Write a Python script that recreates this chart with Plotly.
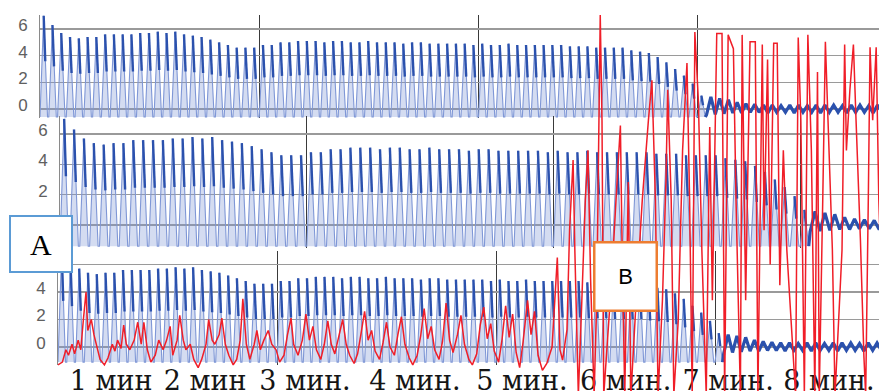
import plotly.graph_objects as go

# ---------------- data ----------------
# peak value of every breathing cycle (blue signal), before the collapse
blue_peaks = [7.0, 6.3, 5.7, 5.4, 5.3, 5.4, 5.4, 5.6, 5.6, 5.6, 5.6, 5.7, 5.7, 5.8, 5.7, 5.8, 5.6, 5.5, 5.4, 5.2,
              5.0, 4.8, 4.6, 4.6, 4.6, 4.8, 4.8, 5.0, 5.0, 5.1,
              5.1, 5.1, 5.0, 5.1, 5.1, 5.0, 5.0, 5.1, 5.0, 5.0, 5.0, 4.9, 5.0, 5.0, 4.9, 4.9,
              4.9, 4.9, 4.9, 4.8, 4.9, 4.8, 4.8, 4.9, 4.8, 4.8, 4.8, 4.8, 4.8, 4.8,
              4.7, 4.7, 4.7, 4.6, 4.6, 4.6, 4.6, 4.4, 4.3, 4.2, 3.9, 3.5, 3.0, 2.5, 1.9, 1.0]
# small oscillation after the collapse
post_peaks = [0.9, 0.8, 0.7, 0.5, 0.4, 0.35, 0.3, 0.3, 0.25, 0.3, 0.3, 0.25, 0.3, 0.3, 0.3, 0.25,
              0.3, 0.3, 0.25, 0.3, 0.3, 0.3]
post_troughs = [-0.45, -0.4, -0.35, -0.3, -0.3, -0.25, -0.25, -0.3, -0.25, -0.25, -0.3, -0.25,
                -0.25, -0.3, -0.25, -0.25, -0.3, -0.25, -0.25, -0.3, -0.25, -0.25]
# trough level of the blue signal in each of the three panels
trough_levels = [-0.6, -1.4, -1.1]

# red signal (time in cycles, value in units of the lower panel)
red_t = [0.0, 0.5, 0.9, 1.2, 1.6, 1.9, 2.3, 2.6, 2.9, 3.2, 3.4, 3.8, 4.1, 4.4, 4.8, 5.3, 5.7, 6.2, 6.5, 6.8,
         7.2, 7.5, 7.8, 8.2, 8.7, 9.1, 9.5, 9.8, 10.2, 10.6, 11.1, 11.5, 12.0, 12.4, 12.8, 13.1, 13.6, 13.9,
         14.3, 14.6, 15.1, 15.5, 16.0, 16.4, 16.9, 17.2, 17.6, 17.9, 18.4, 18.7, 19.1, 19.5, 20.0, 20.4,
         20.8, 21.1, 21.5, 21.9, 22.4, 22.7, 23.1, 23.5, 24.0, 24.4, 24.9, 25.3, 25.8, 26.2, 26.6, 26.9,
         27.4, 27.9, 28.3, 28.7, 29.1, 29.5, 30.0, 30.4, 30.8, 31.2, 31.6, 32.1, 32.5, 32.9, 33.3, 33.8,
         34.2, 34.6, 35.0, 35.4, 35.8, 36.2, 36.7, 37.1, 37.5, 37.9, 38.4, 38.8, 39.2, 39.6, 40.1, 40.5,
         41.0, 41.4, 41.8, 42.2, 42.6, 43.0, 43.5, 43.9, 44.3, 44.7, 45.1, 45.6, 46.0, 46.4, 46.9, 47.3,
         47.8, 48.2, 48.6, 49.0, 49.4, 49.8, 50.3, 50.7, 51.1, 51.5, 51.9, 52.3, 52.7, 53.1, 53.6, 54.0,
         54.4, 54.8, 55.3, 55.8, 56.4, 57.0, 57.3,
         57.6, 58.1, 58.4, 58.8, 59.0, 59.4, 59.8, 60.2, 60.5, 60.8, 61.2, 61.5, 61.9, 62.1, 62.3, 62.8,
         63.2, 63.7, 64.2, 64.4, 64.7, 65.1, 65.4, 66.0, 66.7, 67.4, 67.8, 68.2, 68.5, 69.0, 69.4, 69.6,
         70.0, 70.3, 70.8, 71.3, 71.8, 72.1, 72.4, 72.7, 73.1, 73.5, 74.0, 74.4, 74.7, 75.2, 75.8, 76.1,
         76.5, 77.1, 77.4, 77.9, 78.1, 78.5, 79.0, 79.6, 79.9, 80.4, 80.6, 81.0, 81.3, 81.7, 82.1, 82.4,
         82.8, 83.2, 83.8, 84.2, 84.5, 84.8, 85.2, 85.6, 86.0, 86.4, 86.7, 86.9, 87.3, 87.6, 87.9, 88.4,
         88.7, 89.0, 89.5, 89.8, 90.0, 90.4, 90.8, 91.1, 91.6, 92.0, 92.2, 92.5, 92.7, 93.0, 93.4, 93.7,
         94.4]
red_v = [-1.3, -1.1, -0.2, -0.6, 0.2, -0.5, 0.5, -0.2, 2.0, 4.0, 1.2, 2.0, 0.9, 0.2, -0.9, -1.3, -0.8, 0.2, -0.3, 0.5,
         -0.1, 1.6, 0.2, -0.2, 0.5, 1.8, 0.2, 1.8, -0.2, -1.1, -0.6, 0.5, -0.2, 0.5, 1.5, -0.6, 0.5, 2.3,
         0.5, -0.2, 0.2, -0.9, -1.5, -0.9, 0.2, 2.0, 0.5, 0.2, 0.9, 2.1, 0.2, -0.6, -1.3, -0.9,
         0.5, 3.5, 0.2, -0.9, 0.2, 1.2, -0.2, 0.5, 1.2, 0.2, -0.2, -1.1, -0.6, 0.9, 2.1, 0.2,
         -0.6, 0.5, 2.4, 0.5, 1.5, -0.2, -0.9, 0.2, 1.9, 0.2, -0.5, 0.9, 2.0, 0.2, -0.6, -1.2,
         -0.5, 1.0, 2.6, 0.5, 1.2, -0.3, -0.9, 0.3, 1.8, 0.0, -0.6, 0.9, 2.2, 0.2, -0.8, -1.3,
         -0.6, 0.8, 2.8, 0.6, 1.5, -0.2, -0.9, 0.4, 3.2, 0.5, -0.4, 0.9, 2.3, 0.2, -0.9, -1.3,
         -0.5, 1.6, 2.9, 0.6, 1.7, -0.3, -1.1, 0.6, 3.0, 0.7, 2.4, -0.4, -1.5, 0.4, 3.4, 0.9,
         2.6, -0.6, -1.7, -1.2, 0.0, 6.5, -0.2,
         -0.95, 1.24, 8.5, 13.6, 7.05, -3.5, 3.4, 10.7, 14.3, 4.9, -3.5, 3.4, 24.15, 16.5, -3.5, 1.24,
         4.9, 10.7, 16.1, 7.05, -3.5, 12.0, -3.5, 3.4, 10.7, 16.5, 19.4, 10.7, -3.5, 3.4, 12.1, 18.7,
         10.7, -3.5, 1.9, 14.3, 20.65, 10.7, -3.5, 22.9, 17.96, 7.05, -3.5, 16.0, 3.4, 22.8, 22.8, -3.5,
         22.7, 21.7, 10.7, -3.5, 22.7, 3.4, 22.2, 22.2, -3.5, 22.0, 8.5, 20.9, 6.0, 22.1, 22.1, 4.5,
         14.3, 7.05, 0.5, -3.5, 22.5, 16.5, -3.5, 22.7, 14.3, -3.5, 20.0, -3.5, 10.7, 22.2, 16.5, 7.05,
         -3.5, 0.5, 7.05, 22.0, 14.3, 18.7, 22.0, 16.5, 7.8, -0.7, -3.5, 10.7, 21.8, 16.5, 21.8, 10.7,
         -3.5]

# minute labels under the lower panel (position in cycles)
minute_pos = [6.05, 16.8, 28.2, 40.75, 52.97, 64.8, 76.5, 88.0]
minute_labels = ["1 мин", "2 мин", "3 мин.", "4 мин.", "5 мин.", "6 мин.", "7 мин.", "8 мин."]
y_ticks = [0, 2, 4, 6]
cycle_marks = [25, 50, 75]

LIGHT = "#7f97d6"
DARK = "#2b51ad"
FILL = "rgba(120,145,212,0.32)"
RED = "#f01e28"


def wave(tr):
    lx, ly, dx, dy = [], [], [], []
    for i, p in enumerate(blue_peaks):
        lx += [i, i + 0.42, i + 0.86]
        ly += [tr, p, tr]
        dx += [i + 0.42, i + 0.6, None]
        dy += [p, tr + 0.55 * (p - tr), None]
    n = len(blue_peaks)
    fx, fy = [n - 0.14], [tr]
    for j in range(len(post_peaks)):
        fx += [n + j, n + j + 0.5]
        fy += [post_troughs[j], post_peaks[j]]
    return lx, ly, dx, dy, fx, fy


fig = go.Figure()
for k in range(3):
    tr = trough_levels[k]
    lx, ly, dx, dy, fx, fy = wave(tr)
    xa = "x" if k == 0 else f"x{k+1}"
    ya = "y" if k == 0 else f"y{k+1}"
    fig.add_trace(go.Scatter(x=[lx[0], lx[-1]], y=[tr, tr], mode="lines", line=dict(width=0),
                             xaxis=xa, yaxis=ya, hoverinfo="skip", showlegend=False))
    fig.add_trace(go.Scatter(x=lx, y=ly, mode="lines", line=dict(color=LIGHT, width=1.1),
                             fill="tonexty", fillcolor=FILL,
                             xaxis=xa, yaxis=ya, hoverinfo="skip", showlegend=False))
    fig.add_trace(go.Scatter(x=dx, y=dy, mode="lines", line=dict(color=DARK, width=2.4),
                             xaxis=xa, yaxis=ya, hoverinfo="skip", showlegend=False))
    fig.add_trace(go.Scatter(x=fx, y=fy, mode="lines", line=dict(color=DARK, width=3.2),
                             xaxis=xa, yaxis=ya, hoverinfo="skip", showlegend=False))

fig.add_trace(go.Scatter(x=red_t, y=red_v, mode="lines", line=dict(color=RED, width=1.5),
                         xaxis="x4", yaxis="y4", hoverinfo="skip", showlegend=False))

W, H = 879, 391
panels = [dict(left=40, top=15, bottom=118, yr=[-0.675, 7.05], xr=[0, 95.67]),
          dict(left=60, top=116, bottom=248, yr=[-1.52, 7.19], xr=[0, 82.98]),
          dict(left=58, top=251, bottom=365, yr=[-1.31, 6.98], xr=[0, 93.72])]

lay = dict(width=W, height=H, margin=dict(l=0, r=0, t=0, b=0, autoexpand=False), paper_bgcolor="white",
           plot_bgcolor="rgba(0,0,0,0)", showlegend=False, hovermode=False)
for k, p in enumerate(panels):
    sx = "" if k == 0 else str(k + 1)
    xdom = [p["left"] / W, 1]
    ydom = [1 - p["bottom"] / H, 1 - p["top"] / H]
    xa = dict(domain=xdom, range=p["xr"], anchor="y" + sx, showline=False, zeroline=False,
              showgrid=False, ticks="", showticklabels=False, automargin=False,
              minor=dict(tickvals=cycle_marks, showgrid=True, gridcolor="#3a3a3a", gridwidth=1))
    if k == 2:
        xa.update(tickvals=minute_pos, ticktext=minute_labels, showticklabels=True,
                  tickfont=dict(family="DejaVu Serif", size=27, color="#151515"),
                  ticklabelstandoff=-3)
    ya = dict(domain=ydom, range=p["yr"], anchor="x" + sx, tickvals=y_ticks, showgrid=True,
              gridcolor="#9a9a9a", gridwidth=1.5, zeroline=False, showline=True,
              linecolor="#8a8a8a", linewidth=1, ticks="", automargin=False,
              tickfont=dict(family="Liberation Sans", size=17, color="#606060"),
              ticklabelshift=-4, ticklabelstandoff=8)
    lay["xaxis" + sx] = xa
    lay["yaxis" + sx] = ya

lay["xaxis4"] = dict(domain=[0, 1], range=[-58 / 8.76, 821 / 8.76], anchor="y4", visible=False,
                     automargin=False)
lay["yaxis4"] = dict(domain=[0, 1], range=[-44 / 13.75, 347 / 13.75], anchor="x4", visible=False,
                     automargin=False)

lay["annotations"] = [
    dict(text="A", xref="paper", yref="paper", x=9 / W, y=1 - 215 / H, xanchor="left", yanchor="top",
         showarrow=False, width=58, height=52, bgcolor="white", bordercolor="#5b9bd5", borderwidth=2,
         font=dict(family="Liberation Serif", size=30, color="black"), valign="middle"),
    dict(text="B", xref="paper", yref="paper", x=593 / W, y=1 - 241 / H, xanchor="left", yanchor="top",
         showarrow=False, width=58, height=64, bgcolor="white", bordercolor="#ed7d31", borderwidth=2.5,
         font=dict(family="Liberation Sans", size=22, color="black"), valign="middle"),
]
fig.update_layout(**lay)
fig.write_html("out.html", config={"displayModeBar": False, "staticPlot": True},
               post_script="document.body.style.margin='0';document.body.style.overflow='hidden';")
